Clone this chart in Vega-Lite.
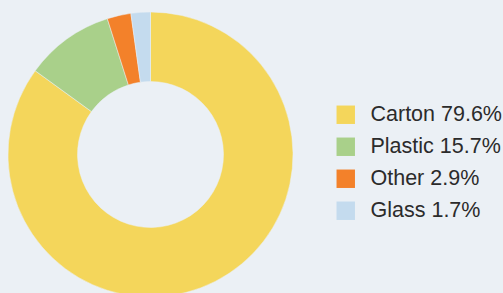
{
  "$schema": "https://vega.github.io/schema/vega-lite/v6.json",
  "width": 301,
  "height": 309,
  "autosize": {"type": "none"},
  "padding": {"left": 0, "top": 0, "right": 202, "bottom": 0},
  "background": "#ebf0f5",
  "config": {"view": {"stroke": null}},
  "data": {
    "values": [
      {"label": "Carton 79.6%", "share": 85.0, "rank": 1},
      {"label": "Plastic 15.7%", "share": 10.1, "rank": 2},
      {"label": "Other 2.9%", "share": 2.7, "rank": 3},
      {"label": "Glass 1.7%", "share": 2.2, "rank": 4}
    ]
  },
  "mark": {"type": "arc", "outerRadius": 142.5, "innerRadius": 73, "stroke": "#ebf0f5", "strokeWidth": 0.5},
  "encoding": {
    "theta": {"field": "share", "type": "quantitative", "stack": true},
    "order": {"field": "rank", "type": "quantitative"},
    "color": {
      "field": "label",
      "type": "nominal",
      "sort": ["Carton 79.6%", "Plastic 15.7%", "Other 2.9%", "Glass 1.7%"],
      "scale": {
        "domain": ["Carton 79.6%", "Plastic 15.7%", "Other 2.9%", "Glass 1.7%"],
        "range": ["#f4d65b", "#a9d08a", "#f3812a", "#c4dbee"]
      },
      "legend": {
        "title": null,
        "orient": "none",
        "legendX": 335,
        "legendY": 104,
        "symbolType": "square",
        "symbolSize": 340,
        "symbolStrokeWidth": 0,
        "symbolOpacity": 1,
        "labelFont": "Liberation Sans",
        "labelFontSize": 21.5,
        "labelColor": "#2b2b2b",
        "labelOffset": 14,
        "rowPadding": 9,
        "labelLimit": 300
      }
    }
  }
}
